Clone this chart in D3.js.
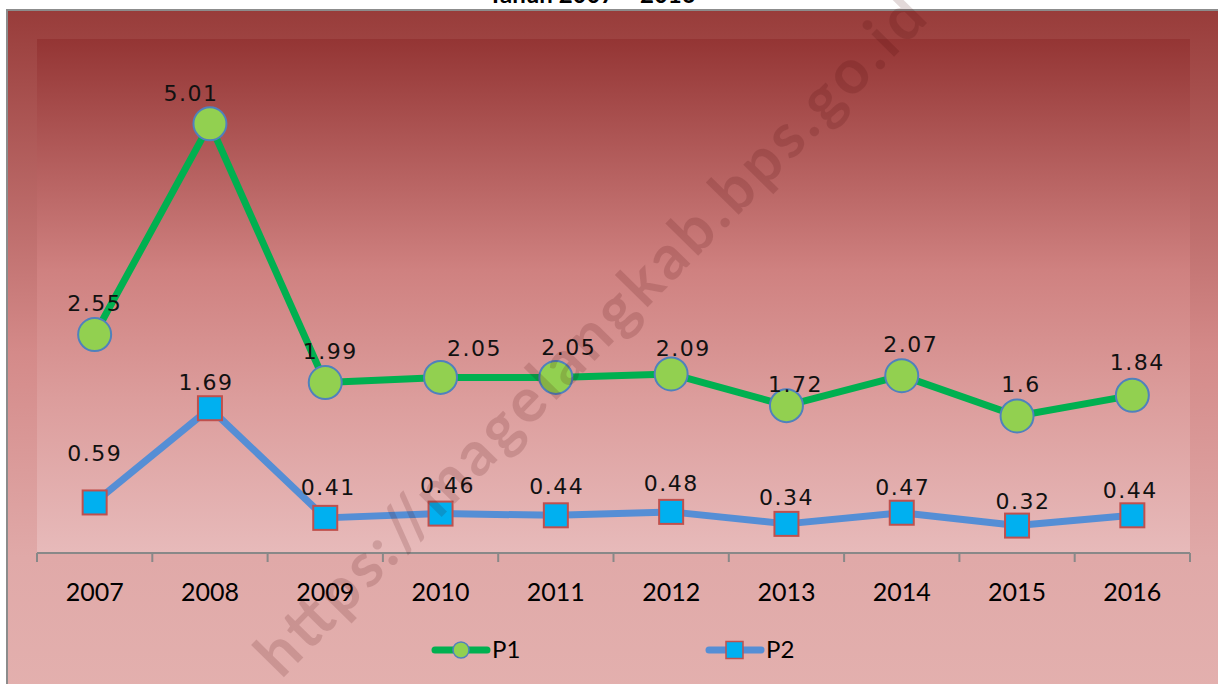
<!DOCTYPE html>
<html>
<head>
<meta charset="utf-8">
<script src="https://cdn.jsdelivr.net/npm/d3@7"></script>
<style>
  body { margin: 0; background: #fff; }
  svg { display: block; }
</style>
</head>
<body>
<script>
// years on the x axis and the two series (P1, P2)
var years = ["2007", "2008", "2009", "2010", "2011", "2012", "2013", "2014", "2015", "2016"];
var p1 = [2.55, 5.01, 1.99, 2.05, 2.05, 2.09, 1.72, 2.07, 1.6, 1.84];
var p2 = [0.59, 1.69, 0.41, 0.46, 0.44, 0.48, 0.34, 0.47, 0.32, 0.44];
var seriesNames = ["P1", "P2"];
var yDomain = [0, 6];
var title = "Tahun 2007 \u2013 2016";
var watermark = "https://magelangkab.bps.go.id";

// small nudges of the data labels, the same as in the original sheet
var p1LabelDx = [0, -19, 5, 34, 13, 12, 9, 9, 4, 5];
var p1LabelDy = [-31, -31, -31, -29, -30, -26, -22, -32, -32, -33];
var p2LabelDx = [0, -4, 3, 7, 1, 0, 0, 1, 6, -2];
var p2LabelDy = [-49, -26, -31, -29, -29, -29, -27, -26, -25, -25];

window.onload = function() {

  var W = 1218, H = 684;
  var plot = { left: 37, right: 1190, top: 39, bottom: 553 };

  var svg = d3.select("body")
    .append("svg")
      .attr("width", W)
      .attr("height", H);

  var defs = svg.append("defs");

  // background gradient of the whole chart area
  var bg = defs.append("linearGradient")
      .attr("id", "bgGrad")
      .attr("x1", 0).attr("y1", 0).attr("x2", 0).attr("y2", 1);
  bg.append("stop").attr("offset", "0%").attr("stop-color", "#983c3a");
  bg.append("stop").attr("offset", "50%").attr("stop-color", "#d48a89");
  bg.append("stop").attr("offset", "80%").attr("stop-color", "#e0a9a8");
  bg.append("stop").attr("offset", "100%").attr("stop-color", "#e3b0ae");

  // gradient of the plot area
  var pg = defs.append("linearGradient")
      .attr("id", "plotGrad")
      .attr("x1", 0).attr("y1", 0).attr("x2", 0).attr("y2", 1);
  pg.append("stop").attr("offset", "0%").attr("stop-color", "#943534");
  pg.append("stop").attr("offset", "45%").attr("stop-color", "#cf8180");
  pg.append("stop").attr("offset", "70%").attr("stop-color", "#dc9d9c");
  pg.append("stop").attr("offset", "100%").attr("stop-color", "#e7baba");

  // title, mostly cut off at the top of the picture
  svg.append("text")
    .attr("x", 592)
    .attr("y", 3)
    .attr("text-anchor", "middle")
    .style("font-family", "Lato, 'Liberation Sans', sans-serif")
    .style("font-weight", "bold")
    .style("font-size", "24px")
    .style("fill", "#000")
    .text(title);

  // chart area
  svg.append("rect")
    .attr("x", 7)
    .attr("y", 10)
    .attr("width", W)
    .attr("height", H)
    .style("fill", "url(#bgGrad)")
    .style("stroke", "#8c8c8c")
    .style("stroke-width", 2);

  // plot area
  svg.append("rect")
    .attr("x", plot.left)
    .attr("y", plot.top)
    .attr("width", plot.right - plot.left)
    .attr("height", plot.bottom - plot.top)
    .style("fill", "url(#plotGrad)");

  // scales
  var xscale = d3.scaleBand()
    .domain(years)
    .range([plot.left, plot.right]);

  var yscale = d3.scaleLinear()
    .domain(yDomain)
    .range([plot.bottom, plot.top]);

  function cx(d, i) { return xscale(years[i]) + xscale.bandwidth() / 2; }

  // x axis with ticks between the categories
  var xAxis = svg.append("g")
    .attr("transform", "translate(0," + plot.bottom + ")");

  xAxis.append("line")
    .attr("x1", plot.left)
    .attr("x2", plot.right)
    .style("stroke", "#888")
    .style("stroke-width", 2);

  xAxis.selectAll(".tick")
    .data(d3.range(years.length + 1))
    .enter().append("line")
      .attr("class", "tick")
      .attr("x1", function(i) { return plot.left + i * xscale.step(); })
      .attr("x2", function(i) { return plot.left + i * xscale.step(); })
      .attr("y1", 0)
      .attr("y2", 9)
      .style("stroke", "#888")
      .style("stroke-width", 2);

  xAxis.selectAll(".year")
    .data(years)
    .enter().append("text")
      .attr("class", "year")
      .attr("x", function(d) { return xscale(d) + xscale.bandwidth() / 2; })
      .attr("y", 39)
      .attr("dy", ".35em")
      .attr("text-anchor", "middle")
      .style("font-family", "Lato, 'Liberation Sans', sans-serif")
      .style("font-size", "25px")
      .style("fill", "#000")
      .text(function(d) { return d; });

  var line = d3.line()
    .x(cx)
    .y(function(d) { return yscale(d); });

  // P1 line
  svg.append("path")
    .datum(p1)
    .attr("d", line)
    .style("fill", "none")
    .style("stroke", "#00b050")
    .style("stroke-width", 7)
    .style("stroke-linejoin", "round");

  // P2 line
  svg.append("path")
    .datum(p2)
    .attr("d", line)
    .style("fill", "none")
    .style("stroke", "#558ed5")
    .style("stroke-width", 7)
    .style("stroke-linejoin", "round");

  // P1 markers
  svg.selectAll("circle.p1")
    .data(p1)
    .enter().append("circle")
      .attr("class", "p1")
      .attr("cx", cx)
      .attr("cy", function(d) { return yscale(d); })
      .attr("r", 16.5)
      .style("fill", "#92d050")
      .style("stroke", "#4f81bd")
      .style("stroke-width", 2);

  // P2 markers
  var sq = 24;
  svg.selectAll("rect.p2")
    .data(p2)
    .enter().append("rect")
      .attr("class", "p2")
      .attr("x", function(d, i) { return cx(d, i) - sq / 2; })
      .attr("y", function(d) { return yscale(d) - sq / 2; })
      .attr("width", sq)
      .attr("height", sq)
      .style("fill", "#00b0f0")
      .style("stroke", "#c0504d")
      .style("stroke-width", 2);

  // data labels
  function labels(values, dx, dy, cls) {
    svg.selectAll("text." + cls)
      .data(values)
      .enter().append("text")
        .attr("class", cls)
        .attr("x", function(d, i) { return cx(d, i) + dx[i]; })
        .attr("y", function(d, i) { return yscale(d) + dy[i]; })
        .attr("dy", ".36em")
        .attr("text-anchor", "middle")
        .style("font-family", "'DejaVu Sans', Verdana, sans-serif")
        .style("font-size", "22px")
        .style("letter-spacing", "1.5px")
        .style("fill", "#111")
        .text(function(d) { return String(d); });
  }
  labels(p1, p1LabelDx, p1LabelDy, "lab1");
  labels(p2, p2LabelDx, p2LabelDy, "lab2");

  // legend
  var legend = svg.append("g")
    .attr("transform", "translate(0,650)");

  var items = [
    { name: seriesNames[0], x: 432, line: "#00b050" },
    { name: seriesNames[1], x: 706, line: "#558ed5" }
  ];

  var item = legend.selectAll("g.item")
    .data(items)
    .enter().append("g")
      .attr("class", "item")
      .attr("transform", function(d) { return "translate(" + d.x + ",0)"; });

  item.append("line")
    .attr("x1", 3)
    .attr("x2", 55)
    .style("stroke", function(d) { return d.line; })
    .style("stroke-width", 7)
    .style("stroke-linecap", "round");

  item.filter(function(d, i) { return i === 0; })
    .append("circle")
      .attr("cx", 29)
      .attr("r", 8)
      .style("fill", "#92d050")
      .style("stroke", "#4f81bd")
      .style("stroke-width", 1.5);

  item.filter(function(d, i) { return i === 1; })
    .append("rect")
      .attr("x", 20)
      .attr("y", -8.5)
      .attr("width", 17)
      .attr("height", 17)
      .style("fill", "#00b0f0")
      .style("stroke", "#c0504d")
      .style("stroke-width", 1.5);

  item.append("text")
    .attr("x", 60)
    .attr("dy", ".35em")
    .style("font-family", "Lato, 'Liberation Sans', sans-serif")
    .style("font-size", "24px")
    .style("fill", "#000")
    .text(function(d) { return d.name; });

  // watermark across the chart
  svg.append("text")
    .attr("transform", "translate(590,335) rotate(-45.5)")
    .attr("text-anchor", "middle")
    .attr("dy", ".35em")
    .attr("textLength", 925)
    .attr("lengthAdjust", "spacing")
    .style("font-family", "Lato, 'DejaVu Sans', sans-serif")
    .style("font-weight", "bold")
    .style("font-size", "62px")
    .style("fill", "rgba(70,0,0,0.15)")
    .text(watermark);
};
</script>
</body>
</html>
